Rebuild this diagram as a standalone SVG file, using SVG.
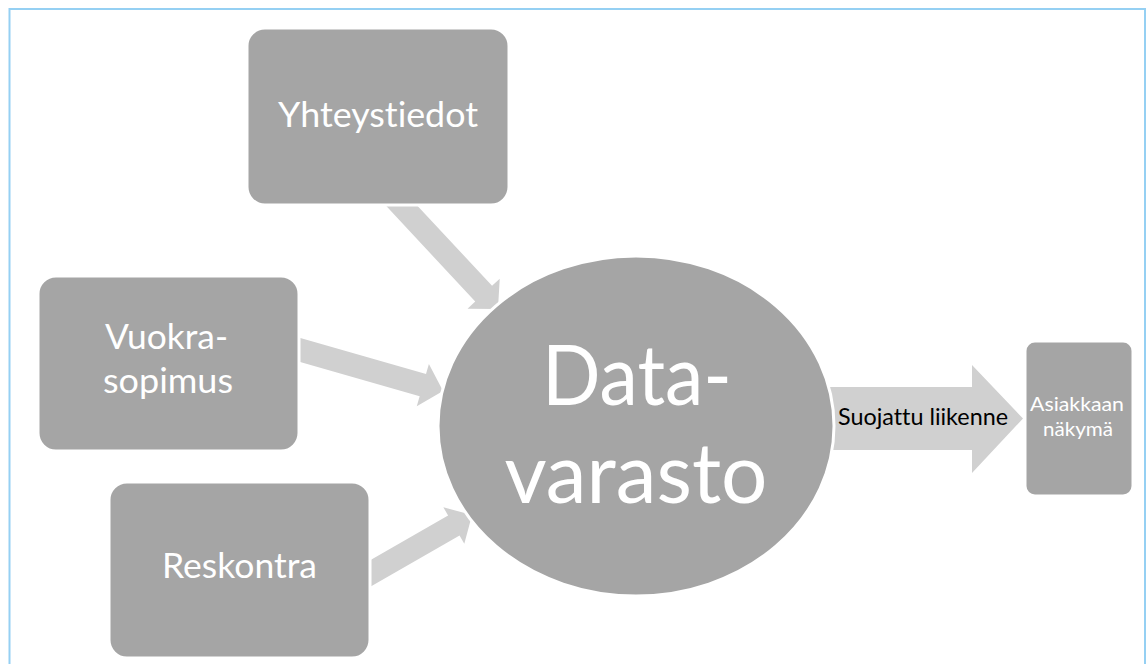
<svg xmlns="http://www.w3.org/2000/svg" width="1147" height="664" viewBox="0 0 1147 664">
<style>
.node{fill:#a5a5a5;stroke:#ffffff;stroke-width:3}
.arr{fill:#d0d0d0;stroke:none}
.t{font-family:Lato,"Open Sans","Liberation Sans",sans-serif;fill:#ffffff;text-anchor:middle;font-variant-ligatures:none}
.lbl{font-family:Lato,"Open Sans","Liberation Sans",sans-serif;fill:#000000;text-anchor:middle;font-variant-ligatures:none}
</style>
<rect x="0" y="0" width="1147" height="664" fill="#ffffff"/>
<rect x="9.5" y="9" width="1135.5" height="670" fill="none" stroke="#95d0f3" stroke-width="2"/>
<g id="connectors">
<path class="arr" transform="translate(387,190) rotate(47)" d="M0,-11.5 L141.7,-11.5 L141.7,-22 L162.7,0 L141.7,22 L141.7,11.5 L0,11.5 Z"/>
<path class="arr" transform="translate(285,345.6) rotate(16)" d="M0,-11.5 L143.4,-11.5 L143.4,-22 L164.4,0 L143.4,22 L143.4,11.5 L0,11.5 Z"/>
<path class="arr" transform="translate(355,582.3) rotate(-29.9)" d="M0,-11.5 L114,-11.5 L114,-21 L135,0 L114,21 L114,11.5 L0,11.5 Z"/>
<polygon class="arr" points="825,387 972,387 972,365 1023,418.5 972,473 972,450 825,450"/>
</g>
<g id="node-yhteystiedot">
<rect class="node" x="247" y="28" width="262" height="177" rx="18"/>
<text class="t" x="378" y="127" font-size="35" textLength="200" lengthAdjust="spacingAndGlyphs">Yhteystiedot</text>
</g>
<g id="node-vuokrasopimus">
<rect class="node" x="38" y="276" width="261" height="175" rx="18"/>
<text class="t" x="166.5" y="349" font-size="34" textLength="123" lengthAdjust="spacingAndGlyphs">Vuokra-</text>
<text class="t" x="168" y="393" font-size="34" textLength="130" lengthAdjust="spacingAndGlyphs">sopimus</text>
</g>
<g id="node-reskontra">
<rect class="node" x="109" y="482" width="261" height="176" rx="18"/>
<text class="t" x="239.5" y="578" font-size="34" textLength="155" lengthAdjust="spacingAndGlyphs">Reskontra</text>
</g>
<g id="node-datavarasto">
<ellipse class="node" cx="636" cy="426" rx="198" ry="170"/>
<text class="t" x="637" y="405" font-size="84" textLength="190" lengthAdjust="spacingAndGlyphs">Data-</text>
<text class="t" x="636" y="503" font-size="84" textLength="263" lengthAdjust="spacingAndGlyphs">varasto</text>
</g>
<g id="label-suojattu">
<text class="lbl" x="923" y="425" font-size="23" textLength="170" lengthAdjust="spacingAndGlyphs">Suojattu liikenne</text>
</g>
<g id="node-asiakkaan">
<rect class="node" x="1025" y="341" width="108" height="155" rx="10"/>
<text class="t" x="1077" y="411" font-size="20" textLength="94" lengthAdjust="spacingAndGlyphs">Asiakkaan</text>
<text class="t" x="1078" y="436" font-size="20" textLength="70" lengthAdjust="spacingAndGlyphs">näkymä</text>
</g>
</svg>
